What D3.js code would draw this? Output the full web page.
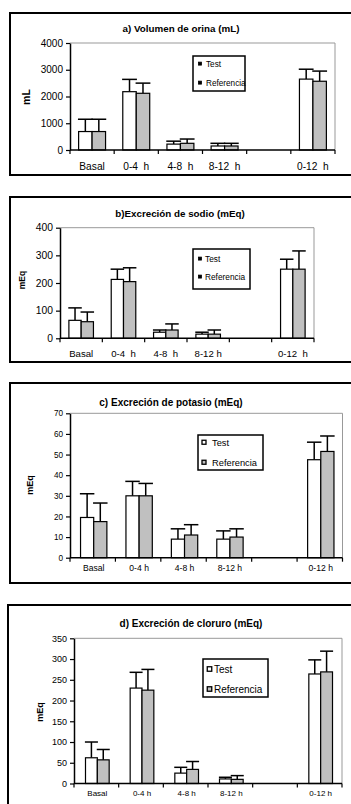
<!DOCTYPE html>
<html><head><meta charset="utf-8">
<script src="https://cdn.jsdelivr.net/npm/d3@7"></script>
<style>
html,body{margin:0;padding:0;background:#fff;}
svg{display:block;font-family:"Liberation Sans",Arial,sans-serif;}
text{white-space:pre;}
</style></head>
<body>
<script>
// ---------- DATA ----------
const categories = ["Basal", "0-4 h", "4-8 h", "8-12 h", "", "0-12 h"];
const categoriesA = ["Basal", "0-4  h", "4-8  h", "8-12  h", "", "0-12  h"];
const categoriesB = ["Basal", "0-4  h", "4-8  h", "8-12 h", "", "0-12  h"];
const seriesNames = ["Test", "Referencia"];

// a) Volumen de orina (mL)  — mean and SD (upper error)
const volTest   = [690, 2180, 220, 150, null, 2650];
const volTestSD = [460,  460, 110, 100, null,  370];
const volRef    = [690, 2120, 250, 150, null, 2570];
const volRefSD  = [460,  380, 160, 100, null,  380];
const volTicks  = [0, 1000, 2000, 3000, 4000];

// b) Excreción de sodio (mEq)
const naTest   = [65, 213, 22, 15, null, 250];
const naTestSD = [45,  37,  8,  7, null,  36];
const naRef    = [60, 205, 30, 15, null, 250];
const naRefSD  = [35,  50, 22, 15, null,  66];
const naTicks  = [0, 100, 200, 300, 400];

// c) Excreción de potasio (mEq)
const kTest   = [19.5, 30,  9,  9, null, 47.5];
const kTestSD = [11.5,  7,  5,  4, null,  8.5];
const kRef    = [17.5, 30, 11, 10, null, 51.5];
const kRefSD  = [9,     6,  5,  4, null,  7.5];
const kTicks  = [0, 10, 20, 30, 40, 50, 60, 70];

// d) Excreción de cloruro (mEq)
const clTest   = [62, 230, 25, 11, null, 264];
const clTestSD = [38,  38, 14,  4, null,  34];
const clRef    = [57, 225, 34, 10, null, 269];
const clRefSD  = [25,  50, 19,  9, null,  50];
const clTicks  = [0, 50, 100, 150, 200, 250, 300, 350];

// ---------- LAYOUT ----------
const panels = [
  { title: "a) Volumen de orina (mL)", ylabel: "mL", labels: categoriesA,
    test: volTest, testSD: volTestSD, ref: volRef, refSD: volRefSD, ticks: volTicks,
    frame: {x: 10, y: 13, b: 175},
    plot: {x0: 70, x1: 335, yt: 43, yb: 150}, group: 0.61, shift: 0,
    titleX: 181, titleY: 31.5, titleSize: 9.8,
    ylabX: 30, ylabY: 97, ylabSize: 10.5,
    tickSize: 10, xlabSize: 10.2, xlabY: 169.5,
    legend: {x: 193, y: 56, w: 52, h: 35, mk: 3, size: 8.2, tx: 206, y1: 66.5, y2: 85.5, mx: 200, solid: true} },
  { title: "b)Excreción de sodio (mEq)", ylabel: "mEq", labels: categoriesB,
    test: naTest, testSD: naTestSD, ref: naRef, refSD: naRefSD, ticks: naTicks,
    frame: {x: 10, y: 197, b: 362},
    plot: {x0: 60, x1: 314, yt: 227.7, yb: 338.3}, group: 0.58, shift: 0,
    titleX: 180, titleY: 216.5, titleSize: 9.8,
    ylabX: 25, ylabY: 280, ylabSize: 8.5,
    tickSize: 10.3, xlabSize: 9.6, xlabY: 357,
    legend: {x: 193, y: 249, w: 57, h: 40, mk: 3, size: 8.3, tx: 205, y1: 261.5, y2: 279.5, mx: 200, solid: true} },
  { title: "c) Excreción de potasio (mEq)", ylabel: "mEq", labels: categories,
    test: kTest, testSD: kTestSD, ref: kRef, refSD: kRefSD, ticks: kTicks,
    frame: {x: 10, y: 383, b: 583},
    plot: {x0: 70, x1: 342.5, yt: 413.3, yb: 557.7}, group: 0.58, shift: 1,
    titleX: 171, titleY: 405.5, titleSize: 10,
    ylabX: 33, ylabY: 485, ylabSize: 9,
    tickSize: 8.2, xlabSize: 8.6, xlabY: 571,
    legend: {x: 198, y: 435, w: 65, h: 35, mk: 4, size: 9.3, tx: 212, y1: 445.5, y2: 465.5, mx: 204, solid: false} },
  { title: "d) Excreción de cloruro (mEq)", ylabel: "mEq", labels: categories,
    test: clTest, testSD: clTestSD, ref: clRef, refSD: clRefSD, ticks: clTicks,
    frame: {x: 8, y: 605, b: 830},
    plot: {x0: 74, x1: 342, yt: 638.3, yb: 783.5}, group: 0.53, shift: 1,
    titleX: 191, titleY: 626.5, titleSize: 10,
    ylabX: 43, ylabY: 712, ylabSize: 9,
    tickSize: 9, xlabSize: 8, xlabY: 796,
    legend: {x: 203, y: 659, w: 65, h: 38, mk: 4.5, size: 10, tx: 214, y1: 672.5, y2: 692.5, mx: 209.5, solid: false} }
];

const W = 351, H = 804;
const svg = d3.select("body").append("svg").attr("width", W).attr("height", H);
const fills = ["#ffffff", "#c0c0c0"];

panels.forEach(p => {
  const g = svg.append("g");
  // outer frame
  g.append("rect")
    .attr("x", p.frame.x).attr("y", p.frame.y)
    .attr("width", W + 20 - p.frame.x).attr("height", p.frame.b - p.frame.y)
    .attr("fill", "#fff").attr("stroke", "#000").attr("stroke-width", 2);

  const x = d3.scaleBand().domain(d3.range(categories.length)).range([p.plot.x0, p.plot.x1]);
  const maxV = p.ticks[p.ticks.length - 1];
  const y = d3.scaleLinear().domain([0, maxV]).range([p.plot.yb, p.plot.yt]);
  const inner = d3.scaleBand().domain(seriesNames)
    .range([0, x.bandwidth() * p.group]);
  const off = (x.bandwidth() - x.bandwidth() * p.group) / 2 + p.shift;

  // plot area border (grey top/right)
  g.append("path")
    .attr("d", `M${p.plot.x0},${y(maxV)}H${p.plot.x1}V${y(0)}`)
    .attr("fill", "none").attr("stroke", "#999").attr("stroke-width", 1);

  // bars
  const rows = categories.map((c, i) => ({i, vals: [
    {s: "Test", v: p.test[i], e: p.testSD[i], k: 0},
    {s: "Referencia", v: p.ref[i], e: p.refSD[i], k: 1}]}));
  rows.forEach(r => {
    r.vals.forEach(d => {
      if (d.v == null) return;
      const bx = x(r.i) + off + inner(d.s);
      const bw = inner.bandwidth();
      const cx = bx + bw / 2;
      // error bar (upper)
      g.append("line").attr("x1", cx).attr("x2", cx)
        .attr("y1", y(d.v)).attr("y2", y(d.v + d.e))
        .attr("stroke", "#000").attr("stroke-width", 1.5);
      g.append("line").attr("x1", cx - bw * 0.55).attr("x2", cx + bw * 0.55)
        .attr("y1", y(d.v + d.e)).attr("y2", y(d.v + d.e))
        .attr("stroke", "#000").attr("stroke-width", 1.5);
      g.append("rect").attr("x", bx).attr("y", y(d.v))
        .attr("width", bw).attr("height", y(0) - y(d.v))
        .attr("fill", fills[d.k]).attr("stroke", "#000").attr("stroke-width", 1.2);
    });
  });

  // y axis
  const ya = g.append("g").attr("transform", `translate(${p.plot.x0},0)`)
    .call(d3.axisLeft(y).tickValues(p.ticks).tickSize(4).tickSizeOuter(0).tickPadding(3).tickFormat(d3.format("d")));
  ya.select(".domain").attr("stroke", "#000").attr("stroke-width", 1.5);
  ya.selectAll(".tick line").attr("stroke", "#000").attr("stroke-width", 1.2);
  ya.selectAll(".tick text").attr("font-size", p.tickSize)
    .attr("font-family", "Liberation Sans, Arial, sans-serif").attr("fill", "#000");

  // x axis with ticks at category boundaries
  g.append("line").attr("x1", p.plot.x0).attr("x2", p.plot.x1)
    .attr("y1", y(0)).attr("y2", y(0)).attr("stroke", "#000").attr("stroke-width", 1.5);
  d3.range(categories.length + 1).forEach(i => {
    const tx = p.plot.x0 + i * x.step();
    g.append("line").attr("x1", tx).attr("x2", tx)
      .attr("y1", y(0)).attr("y2", y(0) + 4).attr("stroke", "#000").attr("stroke-width", 1.2);
  });
  g.selectAll(null).data(p.labels).enter().append("text")
    .attr("x", (d, i) => x(i) + x.bandwidth() / 2 + p.shift)
    .attr("y", p.xlabY).attr("text-anchor", "middle")
    .attr("font-size", p.xlabSize).text(d => d);

  // title
  g.append("text").attr("x", p.titleX).attr("y", p.titleY).attr("text-anchor", "middle")
    .attr("font-weight", "bold").attr("font-size", p.titleSize).text(p.title);
  // y label
  g.append("text").attr("transform", `translate(${p.ylabX},${p.ylabY}) rotate(-90)`)
    .attr("text-anchor", "middle").attr("font-weight", "bold")
    .attr("font-size", p.ylabSize).text(p.ylabel);

  // legend
  const L = p.legend;
  g.append("rect").attr("x", L.x).attr("y", L.y).attr("width", L.w).attr("height", L.h)
    .attr("fill", "#fff").attr("stroke", "#000").attr("stroke-width", 1.5);
  [L.y1, L.y2].forEach((ly, k) => {
    g.append("rect").attr("x", L.mx - L.mk / 2).attr("y", ly - L.size * 0.35 - L.mk / 2)
      .attr("width", L.mk).attr("height", L.mk)
      .attr("fill", L.solid ? "#000" : fills[k]).attr("stroke", "#000")
      .attr("stroke-width", L.solid ? 0.8 : 1.3);
    g.append("text").attr("x", L.tx).attr("y", ly).attr("font-size", L.size).text(seriesNames[k]);
  });
});
</script>
</body></html>
